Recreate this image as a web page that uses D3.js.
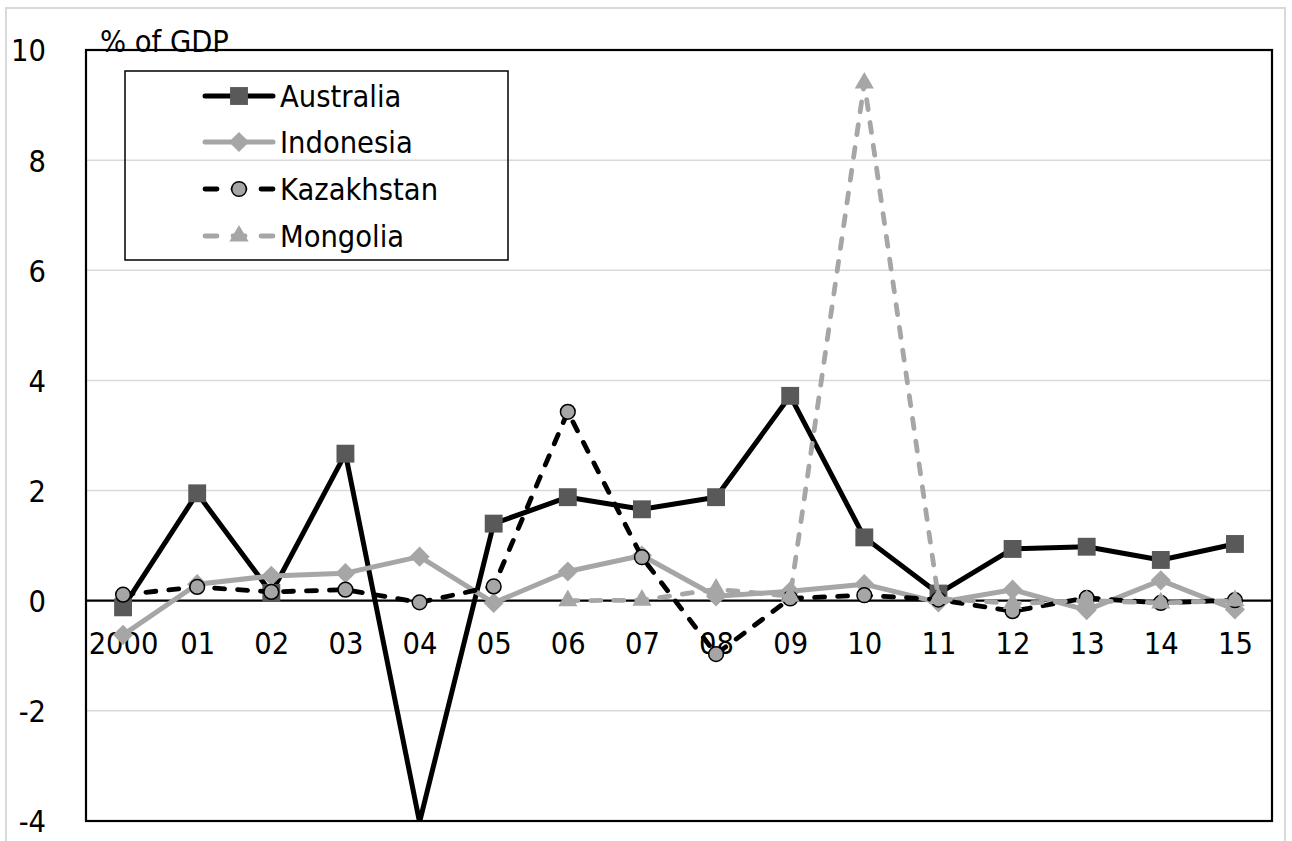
<!DOCTYPE html>
<html>
<head>
<meta charset="utf-8">
<script src="https://cdn.jsdelivr.net/npm/d3@7"></script>
<style>
  html, body { margin: 0; padding: 0; background: #fff; }
  svg text { font-family: "DejaVu Sans Condensed", "DejaVu Sans", sans-serif; font-stretch: condensed; fill: #000; }
</style>
</head>
<body>
<svg id="chart" width="1292" height="841"></svg>
<script>
// Years on the horizontal axis
const years = ["2000","01","02","03","04","05","06","07","08","09","10","11","12","13","14","15"];
// Series values, % of GDP
const australia  = [-0.12, 1.95, 0.14, 2.67, -4.02, 1.40, 1.88, 1.66, 1.88, 3.72, 1.15, 0.13, 0.94, 0.98, 0.74, 1.03];
const indonesia  = [-0.62, 0.30, 0.45, 0.50, 0.80, -0.04, 0.53, 0.82, 0.08, 0.17, 0.30, -0.03, 0.20, -0.17, 0.37, -0.16];
const kazakhstan = [0.11, 0.25, 0.16, 0.20, -0.03, 0.26, 3.43, 0.79, -0.97, 0.04, 0.10, 0.02, -0.19, 0.05, -0.04, 0.01];
const mongolia   = [null, null, null, null, null, null, 0.0, 0.01, 0.21, 0.08, 9.40, 0.04, -0.05, 0.0, -0.04, 0.0];
const yTicks = [-4, -2, 0, 2, 4, 6, 8, 10];
const seriesNames = ["Australia", "Indonesia", "Kazakhstan", "Mongolia"];

const FONT = '"DejaVu Sans Condensed", "DejaVu Sans", sans-serif';
const FS = 30.5;

const series = [
  { name: seriesNames[0], values: australia,  color: "#000",    width: 5,   dash: null,    marker: "square",   mfill: "#595959", mstroke: "none" },
  { name: seriesNames[1], values: indonesia,  color: "#a6a6a6", width: 5,   dash: null,    marker: "diamond",  mfill: "#a6a6a6", mstroke: "none" },
  { name: seriesNames[2], values: kazakhstan, color: "#000",    width: 4.8, dash: "10,13", marker: "circle",   mfill: "#a6a6a6", mstroke: "#000" },
  { name: seriesNames[3], values: mongolia,   color: "#a6a6a6", width: 4.8, dash: "10,13", marker: "triangle", mfill: "#a6a6a6", mstroke: "none" }
];

const svg = d3.select("#chart");
const plot = { left: 86, right: 1272, top: 50, bottom: 821 };

// outer chart border
svg.append("rect")
  .attr("x", 6).attr("y", 8).attr("width", 1279).attr("height", 860)
  .attr("fill", "none").attr("stroke", "#d9d9d9").attr("stroke-width", 2);

svg.append("defs").append("clipPath").attr("id", "plotClip")
  .append("rect")
  .attr("x", plot.left).attr("y", plot.top)
  .attr("width", plot.right - plot.left).attr("height", plot.bottom - plot.top);

const x = d3.scalePoint().domain(years).range([plot.left, plot.right]).padding(0.5);
const y = d3.scaleLinear().domain([-4, 10]).range([plot.bottom, plot.top]);

// horizontal gridlines
svg.append("g").selectAll("line")
  .data(yTicks.filter(t => t !== 0 && t !== -4 && t !== 10))
  .join("line")
  .attr("x1", plot.left).attr("x2", plot.right)
  .attr("y1", d => y(d)).attr("y2", d => y(d))
  .attr("stroke", "#d9d9d9").attr("stroke-width", 1.5);

// y axis labels
const yAxis = d3.axisLeft(y).tickValues(yTicks).tickSize(0).tickPadding(0).tickFormat(d => String(d));
const yg = svg.append("g").attr("transform", `translate(46,0)`).call(yAxis);
yg.select(".domain").remove();
yg.selectAll("text").attr("font-size", FS).attr("dy", "0.36em").style("font-family", FONT);

// unit label
svg.append("text").attr("x", 100).attr("y", 52).attr("font-size", FS).text("% of GDP");

// zero line with category labels below
const xAxis = d3.axisBottom(x).tickSize(0).tickPadding(0);
const xg = svg.append("g").attr("transform", `translate(0,${y(0)})`).call(xAxis);
xg.select(".domain").attr("stroke", "#000").attr("stroke-width", 2.2)
  .attr("d", `M${plot.left},0H${plot.right}`);
xg.selectAll("text").attr("font-size", FS).attr("y", 32).attr("dy", "0.71em").style("font-family", FONT);

const symbolFor = {
  square:   d3.symbol().type(d3.symbolSquare).size(320),
  diamond:  d3.symbol().type(d3.symbolDiamond2).size(260),
  circle:   d3.symbol().type(d3.symbolCircle).size(170),
  triangle: d3.symbol().type(d3.symbolTriangle).size(160)
};

const line = d3.line()
  .defined(d => d.v !== null)
  .x(d => x(d.year)).y(d => y(d.v));

const inDomain = v => v !== null && v >= -4 && v <= 10;

series.forEach(s => {
  const pts = s.values.map((v, i) => ({ year: years[i], v }));
  const g = svg.append("g").attr("clip-path", "url(#plotClip)");
  g.append("path").datum(pts)
    .attr("d", line)
    .attr("fill", "none")
    .attr("stroke", s.color)
    .attr("stroke-width", s.width)
    .attr("stroke-linejoin", "round")
    .attr("stroke-linecap", "round")
    .attr("stroke-dasharray", s.dash);
  g.selectAll("path.m").data(pts.filter(d => inDomain(d.v))).join("path")
    .attr("class", "m")
    .attr("transform", d => `translate(${x(d.year)},${y(d.v)})`)
    .attr("d", symbolFor[s.marker])
    .attr("fill", s.mfill)
    .attr("stroke", s.mstroke)
    .attr("stroke-width", 1.5);
});

// plot frame
svg.append("rect")
  .attr("x", plot.left).attr("y", plot.top)
  .attr("width", plot.right - plot.left).attr("height", plot.bottom - plot.top)
  .attr("fill", "none").attr("stroke", "#000").attr("stroke-width", 2.2);

// legend
const legend = svg.append("g");
legend.append("rect")
  .attr("x", 125).attr("y", 71).attr("width", 383).attr("height", 189)
  .attr("fill", "none").attr("stroke", "#000").attr("stroke-width", 1.5);
const rowY = [96, 142, 189, 236];
series.forEach((s, i) => {
  const ly = rowY[i];
  legend.append("line")
    .attr("x1", 205).attr("x2", 273).attr("y1", ly).attr("y2", ly)
    .attr("stroke", s.color).attr("stroke-width", s.width)
    .attr("stroke-linecap", "round")
    .attr("stroke-dasharray", s.dash ? "12,16" : null);
  legend.append("path")
    .attr("transform", `translate(239,${ly})`)
    .attr("d", symbolFor[s.marker])
    .attr("fill", s.mfill).attr("stroke", s.mstroke).attr("stroke-width", 1.5);
  legend.append("text")
    .attr("x", 280).attr("y", ly).attr("dy", "0.36em")
    .attr("font-size", FS).text(s.name);
});
</script>
</body>
</html>
